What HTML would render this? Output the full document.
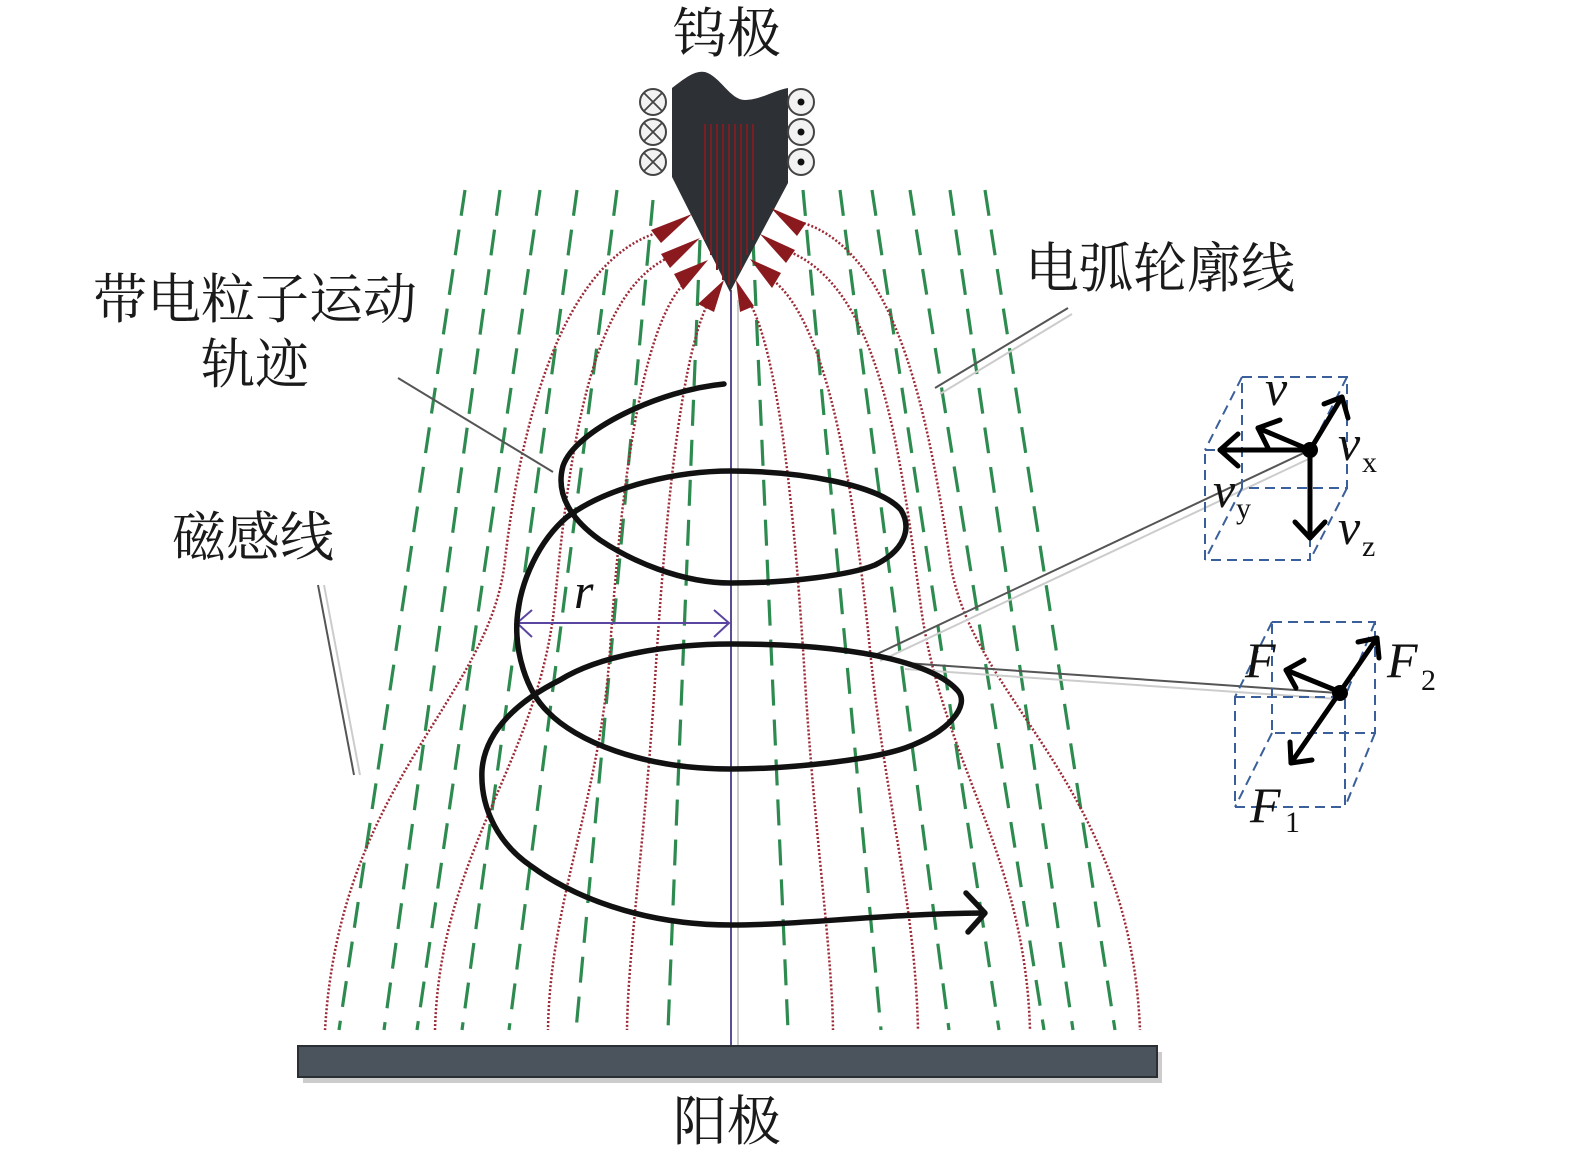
<!DOCTYPE html>
<html><head><meta charset="utf-8"><style>
html,body{margin:0;padding:0;background:#fff;}
svg{display:block;}
.cn{font-family:"Liberation Serif","Noto Serif CJK SC",serif;font-size:54px;fill:#1a1a1a;}
.it{font-family:"Liberation Serif",serif;font-style:italic;font-size:50px;fill:#111;}
.sb{font-family:"Liberation Serif",serif;font-size:30px;fill:#111;}
</style></head><body>
<svg width="1575" height="1165" viewBox="0 0 1575 1165" xmlns="http://www.w3.org/2000/svg">
<g stroke="#2e8b50" stroke-width="3.2" stroke-dasharray="26 14" fill="none">
<line x1="465" y1="190" x2="339" y2="1030"/>
<line x1="500" y1="190" x2="384" y2="1030"/>
<line x1="540" y1="190" x2="417" y2="1030"/>
<line x1="577" y1="190" x2="462" y2="1030"/>
<line x1="617" y1="190" x2="509" y2="1030"/>
<line x1="653" y1="200" x2="576" y2="1030"/>
<line x1="700" y1="240" x2="668" y2="1030"/>
<line x1="753" y1="240" x2="788" y2="1030"/>
<line x1="803" y1="190" x2="881" y2="1030"/>
<line x1="840" y1="190" x2="949" y2="1030"/>
<line x1="872" y1="190" x2="999" y2="1030"/>
<line x1="910" y1="190" x2="1044" y2="1030"/>
<line x1="950" y1="190" x2="1073" y2="1030"/>
<line x1="985" y1="190" x2="1115" y2="1030"/>
</g>
<g stroke="#9b2a35" stroke-width="2.5" stroke-dasharray="2 2" fill="none">
<path d="M660,232 C560,260 520,430 505,560 C490,700 340,780 325,1030"/>
<path d="M672,256 C590,290 570,450 555,600 C540,760 440,850 435,1030"/>
<path d="M688,280 C640,320 620,500 610,650 C600,800 550,900 548,1030"/>
<path d="M708,303 C680,360 665,520 655,680 C645,840 628,950 627,1030"/>
<path d="M750,303 C780,360 795,520 805,680 C815,840 832,950 833,1030"/>
<path d="M770,278 C830,320 855,500 870,650 C885,800 915,900 918,1030"/>
<path d="M790,252 C880,290 900,450 920,600 C940,760 1025,850 1030,1030"/>
<path d="M800,222 C900,250 930,430 950,560 C970,700 1130,780 1140,1030"/>
</g>
<line x1="738" y1="300" x2="738" y2="1055" stroke="#ccc" stroke-width="2"/>
<line x1="731" y1="290" x2="731" y2="1050" stroke="#4a3a8a" stroke-width="1.8"/>
<path d="M672,88 C685,78 695,70 705,72 C720,76 730,100 745,100 C760,100 775,90 788,88 L788,183 L730,292 L672,177 Z" fill="#2d3136"/>
<g stroke="#7a1e24" stroke-width="2">
<line x1="705" y1="124" x2="705" y2="240"/><line x1="711" y1="124" x2="711" y2="255"/><line x1="717" y1="124" x2="717" y2="270"/><line x1="723" y1="124" x2="723" y2="280"/><line x1="729" y1="124" x2="729" y2="285"/><line x1="735" y1="124" x2="735" y2="280"/><line x1="741" y1="124" x2="741" y2="270"/><line x1="747" y1="124" x2="747" y2="255"/><line x1="753" y1="124" x2="753" y2="240"/>
</g>
<g stroke="#444" stroke-width="2" fill="#f2f2f2">
<circle cx="653" cy="102" r="13"/><circle cx="653" cy="132" r="13"/><circle cx="653" cy="162" r="13"/>
<circle cx="801" cy="102" r="13"/><circle cx="801" cy="132" r="13"/><circle cx="801" cy="162" r="13"/>
</g>
<g stroke="#444" stroke-width="1.8">
<path d="M644,93 L662,111 M662,93 L644,111 M644,123 L662,141 M662,123 L644,141 M644,153 L662,171 M662,153 L644,171"/>
</g>
<g fill="#111"><circle cx="801" cy="102" r="3.5"/><circle cx="801" cy="132" r="3.5"/><circle cx="801" cy="162" r="3.5"/></g>
<g fill="#8b1a1f">
<polygon points="692,214 651,230 661,243"/>
<polygon points="700,238 661,254 670,268"/>
<polygon points="708,260 674,274 683,290"/>
<polygon points="724,280 698,304 714,312"/>
<polygon points="771,208 806,223 797,236"/>
<polygon points="760,234 795,250 786,263"/>
<polygon points="750,259 781,273 772,288"/>
<polygon points="736,280 754,306 740,312"/>
</g>
<g stroke="#555" stroke-width="2" fill="none">
<line x1="398" y1="378" x2="553" y2="472"/>
<line x1="1068" y1="308" x2="935" y2="388"/>
<line x1="318" y1="585" x2="354" y2="775"/>
<line x1="875" y1="655" x2="1310" y2="450"/>
<line x1="905" y1="663" x2="1338" y2="693"/>
</g>
<g stroke="#ccc" stroke-width="2" fill="none">
<line x1="1072" y1="314" x2="940" y2="394"/>
<line x1="324" y1="585" x2="360" y2="775"/>
<line x1="880" y1="661" x2="1315" y2="456"/>
<line x1="905" y1="669" x2="1338" y2="699"/>
</g>
<g stroke="#5a45a0" stroke-width="2" fill="none">
<line x1="517" y1="623" x2="729" y2="623"/>
<path d="M532,610 L517,623 L532,637 M714,610 L729,623 L714,637"/>
</g>
<text class="it" x="574" y="608">r</text>
<path d="M724,384 C660,390 575,430 563,466 C555,495 572,520 600,540 C630,560 680,583 731,583 C790,583 850,575 875,565 C905,550 912,528 901,510 C880,485 800,471 731,471 C680,471 610,485 567,517 C540,540 520,580 517,620 C515,650 525,690 548,712 C575,740 640,769 731,769 C790,769 870,760 905,748 C950,732 970,705 958,691 C940,670 880,644 731,644 C670,644 600,655 560,680 C520,700 485,730 482,770 C480,810 500,845 531,866 C570,895 640,925 731,925 C800,925 880,914 984,913" fill="none" stroke="#111" stroke-width="5.5" stroke-linecap="round"/>
<path d="M966,893 L985,913 L968,932" fill="none" stroke="#111" stroke-width="5.5" stroke-linecap="round" stroke-linejoin="round"/>
<g stroke="#3a5f9a" stroke-width="2" stroke-dasharray="10 6" fill="none">
<path d="M1242,377 L1347,377 L1347,488 L1242,488 Z"/>
<path d="M1205,450 L1310,450 L1310,560 L1205,560 Z"/>
<path d="M1242,377 L1205,450 M1347,377 L1310,450 M1347,488 L1310,560 M1242,488 L1205,560"/>
</g>
<g stroke="#000" stroke-width="5" fill="none" stroke-linecap="round" stroke-linejoin="round">
<line x1="1310" y1="450" x2="1220" y2="450"/><path d="M1238,434 L1220,450 L1238,466"/>
<line x1="1310" y1="450" x2="1258" y2="428"/><path d="M1280,420 L1258,428 L1268,448"/>
<line x1="1310" y1="450" x2="1342" y2="397"/><path d="M1324,404 L1342,397 L1348,418"/>
<line x1="1310" y1="450" x2="1310" y2="538"/><path d="M1295,522 L1310,538 L1325,522"/>
</g>
<circle cx="1310" cy="450" r="8" fill="#000"/>
<text class="it" x="1265" y="405">v</text>
<text class="it" x="1338" y="460">v</text><text class="sb" x="1362" y="472">x</text>
<text class="it" x="1213" y="507">v</text><text class="sb" x="1236" y="518">y</text>
<text class="it" x="1338" y="544">v</text><text class="sb" x="1362" y="556">z</text>
<g stroke="#3a5f9a" stroke-width="2" stroke-dasharray="10 6" fill="none">
<path d="M1272,622 L1375,622 L1375,733 L1272,733 Z"/>
<path d="M1235,697 L1345,697 L1345,807 L1235,807 Z"/>
<path d="M1272,622 L1235,697 M1375,622 L1345,697 M1375,733 L1345,807 M1272,733 L1235,807"/>
</g>
<g stroke="#000" stroke-width="5" fill="none" stroke-linecap="round" stroke-linejoin="round">
<line x1="1340" y1="692" x2="1377" y2="638"/><path d="M1358,642 L1377,638 L1379,658"/>
<line x1="1340" y1="692" x2="1286" y2="670"/><path d="M1304,660 L1286,670 L1296,688"/>
<line x1="1340" y1="692" x2="1291" y2="763"/><path d="M1290,742 L1291,763 L1312,760"/>
</g>
<circle cx="1340" cy="693" r="8" fill="#000"/>
<text class="it" x="1245" y="677">F</text>
<text class="it" x="1387" y="677">F</text><text class="sb" x="1421" y="690">2</text>
<text class="it" x="1250" y="822">F</text><text class="sb" x="1285" y="832">1</text>
<rect x="303" y="1052" width="859" height="31" fill="#ccc"/>
<rect x="298" y="1046" width="859" height="31" fill="#4b545d" stroke="#2a2f34" stroke-width="2"/>
<text class="cn" x="727" y="52" text-anchor="middle">钨极</text>
<text class="cn" x="727" y="1140" text-anchor="middle">阳极</text>
<text class="cn" x="255" y="318" text-anchor="middle">带电粒子运动</text>
<text class="cn" x="255" y="383" text-anchor="middle">轨迹</text>
<text class="cn" x="253" y="556" text-anchor="middle">磁感线</text>
<text class="cn" x="1160" y="287" text-anchor="middle">电弧轮廓线</text>
</svg>
</body></html>
